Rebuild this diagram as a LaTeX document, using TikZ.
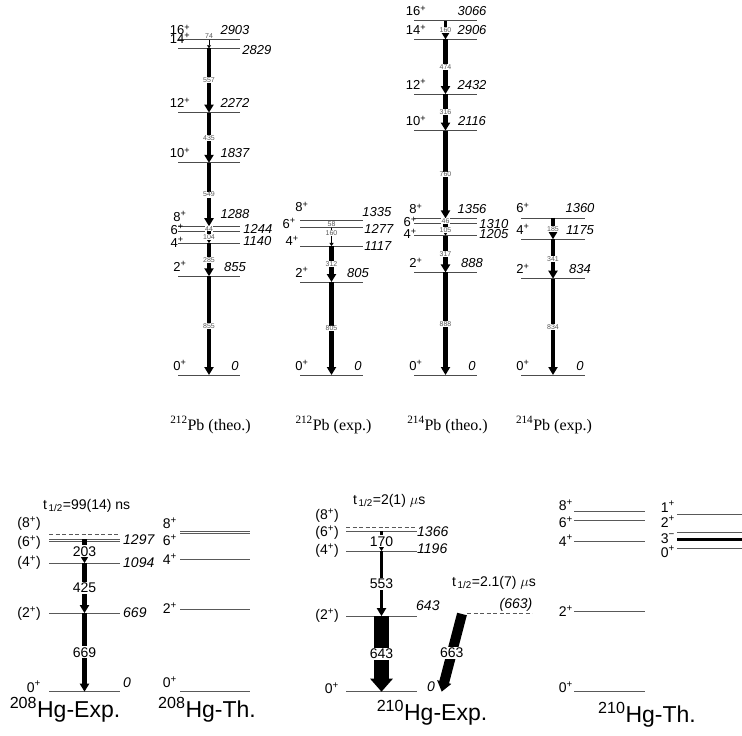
\documentclass[tikz,border=0pt]{standalone}
\usepackage{fontspec}
\setmainfont{Liberation Sans}
\newfontfamily\serifpb{Liberation Serif}
\usetikzlibrary{arrows.meta}

\tikzset{
  livello/.style={draw=black!70, line width=0.8pt},
  livb/.style={draw=black!65, line width=0.7pt},
  fspin/.style={inner sep=1pt, font=\fontsize{13}{15}\selectfont},
  fener/.style={inner sep=1pt, font=\fontsize{13}{15}\selectfont\itshape},
  spin/.style={fspin, anchor=base, xshift=2pt, yshift=5pt},
  ener/.style={fener, anchor=base, xshift=-5pt, yshift=5pt},
  spinsx/.style={fspin, anchor=east},
  enerdx/.style={fener, anchor=west},
  gamma/.style={line width=4.5pt, -{Triangle[width=9pt,length=8pt]}},
  gammino/.style={line width=1pt, -{Triangle[width=4pt,length=3pt]}},
  etg/.style={fill=white, inner sep=0.5pt, text=black!65, font=\fontsize{7}{8}\selectfont},
  nucl/.style={inner sep=1pt, font=\serifpb\fontsize{16}{18}\selectfont},
  spinb/.style={anchor=east, inner sep=1pt, font=\fontsize{14}{16}\selectfont},
  enb/.style={anchor=west, inner sep=1pt, font=\fontsize{14}{16}\selectfont\itshape},
  testo/.style={anchor=west, inner sep=1pt, font=\fontsize{14}{16}\selectfont},
  gammab/.style={line width=4.5pt, -{Triangle[width=9pt,length=8pt]}},
  etb/.style={fill=white, inner sep=1pt, font=\fontsize{14}{16}\selectfont},
  titolo/.style={inner sep=1pt, font=\fontsize{23}{26}\selectfont}
}

\begin{document}
\begin{tikzpicture}[x=1pt, y=-1pt]
  \useasboundingbox (0,0) rectangle (742,736);
  \def\s{0.1155}  % scala in alto
  \def\yb{375}    % livello 0 in alto

  % 212Pb (theo.)
  \draw[livello] (178,{\yb-2903*\s}) node[spin] (jA16) {16\textsuperscript{+}} -- coordinate (A16) (240,{\yb-2903*\s}) node[ener] (eA16) {2903};
  \draw[livello] (178,{\yb-2829*\s}) node[spin] (jA14) {14\textsuperscript{+}} -- coordinate (A14) (240,{\yb-2829*\s}) node[enerdx, xshift=1pt, yshift=-2pt] (eA14) {2829};
  \draw[livello] (178,{\yb-2272*\s}) node[spin] (jA12) {12\textsuperscript{+}} -- coordinate (A12) (240,{\yb-2272*\s}) node[ener] (eA12) {2272};
  \draw[livello] (178,{\yb-1837*\s}) node[spin] (jA10) {10\textsuperscript{+}} -- coordinate (A10) (240,{\yb-1837*\s}) node[ener] (eA10) {1837};
  \draw[livello] (178,{\yb-1288*\s}) node[spin] (jA8) {8\textsuperscript{+}} -- coordinate (A8) (240,{\yb-1288*\s}) node[ener, yshift=3pt] (eA8) {1288};
  \draw[livello] (178,{\yb-1244*\s}) node[spinsx, xshift=7pt, yshift=2pt] (jA6) {6\textsuperscript{+}} -- coordinate (A6) (240,{\yb-1244*\s}) node[enerdx, xshift=2pt, yshift=2pt] (eA6) {1244};
  \draw[livello] (178,{\yb-1140*\s}) node[spinsx, xshift=7pt, yshift=1pt] (jA4) {4\textsuperscript{+}} -- coordinate (A4) (240,{\yb-1140*\s}) node[enerdx, xshift=2pt, yshift=2pt] (eA4) {1140};
  \draw[livello] (178,{\yb-855*\s}) node[spin] (jA2) {2\textsuperscript{+}} -- coordinate (A2) (240,{\yb-855*\s}) node[ener] (eA2) {855};
  \draw[livello] (178,\yb) node[spin] (jA0) {0\textsuperscript{+}} -- coordinate (A0) (240,\yb) node[ener] (eA0) {0};
  \draw[gammino] (A16) -- (A14);
  \node[etg, above=1pt] (gA74) at (A16) {74};
  \draw[gamma] (A14) -- node[etg] (gA557) {557} (A12);
  \draw[gamma] (A12) -- node[etg] (gA435) {435} (A10);
  \draw[gamma] (A10) -- node[etg] (gA549) {549} (A8);
  \draw[gammino] (A8) -- node[etg] (gA44) {44} (A6);
  \draw[gamma] (A6) -- node[etg] (gA104) {104} (A4);
  \draw[gamma] (A4) -- node[etg] (gA285) {285} (A2);
  \draw[gamma] (A2) -- node[etg] (gA855) {855} (A0);

  % 212Pb (exp.)
  \draw[livello] (300,{\yb-1335*\s}) node[spin, yshift=4pt] (jB8) {8\textsuperscript{+}} -- coordinate (B8) (363,{\yb-1335*\s}) node[enerdx, xshift=-2pt, yshift=9pt] (eB8) {1335};
  \draw[livello] (300,{\yb-1277*\s}) node[spinsx, xshift=-3pt, yshift=4pt] (jB6) {6\textsuperscript{+}} -- coordinate (B6) (363,{\yb-1277*\s}) node[enerdx, yshift=-1pt] (eB6) {1277};
  \draw[livello] (300,{\yb-1117*\s}) node[spinsx, yshift=5pt] (jB4) {4\textsuperscript{+}} -- coordinate (B4) (363,{\yb-1117*\s}) node[enerdx] (eB4) {1117};
  \draw[livello] (300,{\yb-805*\s}) node[spin] (jB2) {2\textsuperscript{+}} -- coordinate (B2) (363,{\yb-805*\s}) node[ener] (eB2) {805};
  \draw[livello] (300,\yb) node[spin] (jB0) {0\textsuperscript{+}} -- coordinate (B0) (363,\yb) node[ener] (eB0) {0};
  \draw[gammino] (B8) -- node[etg] (gB58) {58} (B6);
  \draw[gammino] (B6) -- node[etg, pos=0.3] (gB160) {160} (B4);
  \draw[gamma] (B4) -- node[etg] (gB312) {312} (B2);
  \draw[gamma] (B2) -- node[etg] (gB805) {805} (B0);

  % 214Pb (theo.)
  \draw[livello] (414,{\yb-3066*\s}) node[spin] (jC16) {16\textsuperscript{+}} -- coordinate (C16) (477,{\yb-3066*\s}) node[ener] (eC16) {3066};
  \draw[livello] (414,{\yb-2906*\s}) node[spin] (jC14) {14\textsuperscript{+}} -- coordinate (C14) (477,{\yb-2906*\s}) node[ener] (eC14) {2906};
  \draw[livello] (414,{\yb-2432*\s}) node[spin] (jC12) {12\textsuperscript{+}} -- coordinate (C12) (477,{\yb-2432*\s}) node[ener] (eC12) {2432};
  \draw[livello] (414,{\yb-2116*\s}) node[spin] (jC10) {10\textsuperscript{+}} -- coordinate (C10) (477,{\yb-2116*\s}) node[ener] (eC10) {2116};
  \draw[livello] (414,{\yb-1356*\s}) node[spin] (jC8) {8\textsuperscript{+}} -- coordinate (C8) (477,{\yb-1356*\s}) node[ener] (eC8) {1356};
  \draw[livello] (414,{\yb-1310*\s}) node[spinsx, xshift=4pt, yshift=2pt] (jC6) {6\textsuperscript{+}} -- coordinate (C6) (477,{\yb-1310*\s}) node[enerdx, xshift=1pt] (eC6) {1310};
  \draw[livello] (414,{\yb-1205*\s}) node[spinsx, xshift=4pt, yshift=2pt] (jC4) {4\textsuperscript{+}} -- coordinate (C4) (477,{\yb-1205*\s}) node[enerdx, xshift=1pt, yshift=2pt] (eC4) {1205};
  \draw[livello] (414,{\yb-888*\s}) node[spin] (jC2) {2\textsuperscript{+}} -- coordinate (C2) (477,{\yb-888*\s}) node[ener] (eC2) {888};
  \draw[livello] (414,\yb) node[spin] (jC0) {0\textsuperscript{+}} -- coordinate (C0) (477,\yb) node[ener] (eC0) {0};
  \draw[gamma, line width=3pt] (C16) -- node[etg] (gC160) {160} (C14);
  \draw[gamma] (C14) -- node[etg] (gC474) {474} (C12);
  \draw[gamma] (C12) -- node[etg] (gC316) {316} (C10);
  \draw[gamma] (C10) -- node[etg] (gC760) {760} (C8);
  \draw[gammino] (C8) -- node[etg] (gC46) {46} (C6);
  \draw[gamma] (C6) -- node[etg] (gC105) {105} (C4);
  \draw[gamma] (C4) -- node[etg] (gC317) {317} (C2);
  \draw[gamma] (C2) -- node[etg] (gC888) {888} (C0);

  % 214Pb (exp.)
  \draw[livello] (521,{\yb-1360*\s}) node[spin] (jD6) {6\textsuperscript{+}} -- coordinate (D6) (585,{\yb-1360*\s}) node[ener] (eD6) {1360};
  \draw[livello] (521,{\yb-1175*\s}) node[spin] (jD4) {4\textsuperscript{+}} -- coordinate (D4) (585,{\yb-1175*\s}) node[ener] (eD4) {1175};
  \draw[livello] (521,{\yb-834*\s}) node[spin] (jD2) {2\textsuperscript{+}} -- coordinate (D2) (585,{\yb-834*\s}) node[ener] (eD2) {834};
  \draw[livello] (521,\yb) node[spin] (jD0) {0\textsuperscript{+}} -- coordinate (D0) (585,\yb) node[ener] (eD0) {0};
  \draw[gamma] (D6) -- node[etg] (gD185) {185} (D4);
  \draw[gamma] (D4) -- node[etg] (gD341) {341} (D2);
  \draw[gamma] (D2) -- node[etg] (gD834) {834} (D0);

  % nomi in alto
  \node[nucl] (nA) at (210.5,425) {\textsuperscript{212}Pb (theo.)};
  \node[nucl] (nB) at (333.5,425) {\textsuperscript{212}Pb (exp.)};
  \node[nucl] (nC) at (447.5,425) {\textsuperscript{214}Pb (theo.)};
  \node[nucl] (nD) at (554,425) {\textsuperscript{214}Pb (exp.)};

  \def\sb{0.1175} % scala in basso
  \def\yc{691.7}  % livello 0 in basso

  % 208Hg-Exp.
  \draw[livb] (49,\yc) -- coordinate (E0) (120,\yc);
  \draw[livb] (49,{\yc-669*\sb}) -- coordinate (E2) (120,{\yc-669*\sb});
  \draw[livb] (49,{\yc-1094*\sb}) -- coordinate (E4) (120,{\yc-1094*\sb});
  \draw[livb] (49,{\yc-1297*\sb}) -- coordinate (E6) (120,{\yc-1297*\sb});
  \draw[livb] (49,{\yc-1297*\sb+2}) -- (120,{\yc-1297*\sb+2});
  \draw[livb, dash pattern=on 4pt off 2.5pt] (49,534.3) -- (120,534.3);
  \node[spinb] (jE8) at (42,524) {(8\textsuperscript{+})};
  \node[spinb] (jE6) at (42,542.7) {(6\textsuperscript{+})};
  \node[spinb] (jE4) at (42,562.7) {(4\textsuperscript{+})};
  \node[spinb] (jE2) at (42,614) {(2\textsuperscript{+})};
  \node[spinb] (jE0) at (42,686.7) {0\textsuperscript{+}};
  \node[enb] (eE6) at (122,540) {1297};
  \node[enb] (eE4) at (122,563) {1094};
  \node[enb] (eE2) at (122,613) {669};
  \node[enb] (eE0) at (122,682.7) {0};
  \node[testo] (tE) at (42,506) {t\textsubscript{\,1/2}=99(14) ns};
  \draw[gammab] (E6) -- node[etb] (gE203) {203} (E4);
  \draw[gammab] (E4) -- node[etb] (gE425) {425} (E2);
  \draw[gammab] (E2) -- node[etb] (gE669) {669} (E0);
  \node[titolo] (nE) at (65,710) {\textsuperscript{208}Hg-Exp.};

  % 208Hg-Th.
  \draw[livb] (180,531) -- (250,531);
  \draw[livb] (180,533.5) -- (250,533.5);
  \draw[livb] (180,559.3) -- (250,559.3);
  \draw[livb] (180,609) -- (250,609);
  \draw[livb] (180,\yc) -- (250,\yc);
  \node[spinb] (jF8) at (178,523) {8\textsuperscript{+}};
  \node[spinb] (jF6) at (178,540) {6\textsuperscript{+}};
  \node[spinb] (jF4) at (178,559) {4\textsuperscript{+}};
  \node[spinb] (jF2) at (178,608) {2\textsuperscript{+}};
  \node[spinb] (jF0) at (178,682) {0\textsuperscript{+}};
  \node[titolo] (nF) at (207,710) {\textsuperscript{208}Hg-Th.};

  % 210Hg-Exp.
  \draw[livb] (346,\yc) -- coordinate (G0) (417,\yc);
  \draw[livb] (346,{\yc-643*\sb}) -- coordinate (G2) (417,{\yc-643*\sb});
  \draw[livb] (346,{\yc-1196*\sb}) -- coordinate (G4) (417,{\yc-1196*\sb});
  \draw[livb] (346,{\yc-1366*\sb}) -- coordinate (G6) (417,{\yc-1366*\sb});
  \draw[livb, dash pattern=on 4pt off 2.5pt] (346,527.7) -- (417,527.7);
  \draw[livb, dash pattern=on 4pt off 2.5pt] (467,613.3) -- (532,613.3);
  \node[spinb] (jG8) at (340,516) {(8\textsuperscript{+})};
  \node[spinb] (jG6) at (340,533) {(6\textsuperscript{+})};
  \node[spinb] (jG4) at (340,551) {(4\textsuperscript{+})};
  \node[spinb] (jG2) at (340,616) {(2\textsuperscript{+})};
  \node[spinb] (jG0) at (340,688) {0\textsuperscript{+}};
  \node[enb] (eG6) at (416,531.7) {1366};
  \node[enb] (eG4) at (416,549) {1196};
  \node[enb] (eG2) at (415,606) {643};
  \node[enb] (eG0) at (426,686.7) {0};
  \node[enb, anchor=center] (eG663) at (516,605) {(663)};
  \node[testo] (tG) at (352,500.7) {t\textsubscript{\,1/2}=2(1) $\mu$s};
  \node[testo] (tG2) at (451,583) {t\textsubscript{\,1/2}=2.1(7) $\mu$s};
  \draw[gammab, line width=3.5pt] (G6) -- node[etb] (gG170) {170} (G4);
  \draw[gammab, line width=3.5pt] (G4) -- node[etb] (gG553) {553} (G2);
  \draw[line width=15pt, -{Triangle[width=22pt,length=13pt]}] (G2) -- node[etb] (gG643) {643} (G0);
  \coordinate (G663) at (462,614);
  \coordinate (G0b) at (441.7,691.7);
  \draw[line width=10pt, -{Triangle[width=14pt,length=10pt]}] (G663) -- node[etb] (gG663) {663} (G0b);
  \node[titolo] (nG) at (432,713) {\textsuperscript{210}Hg-Exp.};

  % 210Hg-Th.
  \draw[livb] (574,511.7) -- (645,511.7);
  \draw[livb] (574,520.7) -- (645,520.7);
  \draw[livb] (574,541) -- (645,541);
  \draw[livb] (574,611.7) -- (645,611.7);
  \draw[livb] (574,\yc) -- (645,\yc);
  \node[spinb] (jH8) at (574,505) {8\textsuperscript{+}};
  \node[spinb] (jH6) at (574,522) {6\textsuperscript{+}};
  \node[spinb] (jH4) at (574,540.7) {4\textsuperscript{+}};
  \node[spinb] (jH2) at (574,611) {2\textsuperscript{+}};
  \node[spinb] (jH0) at (574,687) {0\textsuperscript{+}};
  \draw[livb] (677,514.3) -- (742,514.3);
  \draw[livb] (677,532.7) -- (742,532.7);
  \draw[line width=3pt] (677,539) -- (742,539);
  \draw[livb] (677,548.3) -- (742,548.3);
  \node[spinb] (jK1) at (676,506.7) {1\textsuperscript{+}};
  \node[spinb] (jK2) at (676,521.7) {2\textsuperscript{+}};
  \node[spinb] (jK3) at (676,538.3) {3\textsuperscript{−}};
  \node[spinb] (jK0) at (676,551.7) {0\textsuperscript{+}};
  \node[titolo] (nH) at (647,715) {\textsuperscript{210}Hg-Th.};
\end{tikzpicture}
\end{document}
